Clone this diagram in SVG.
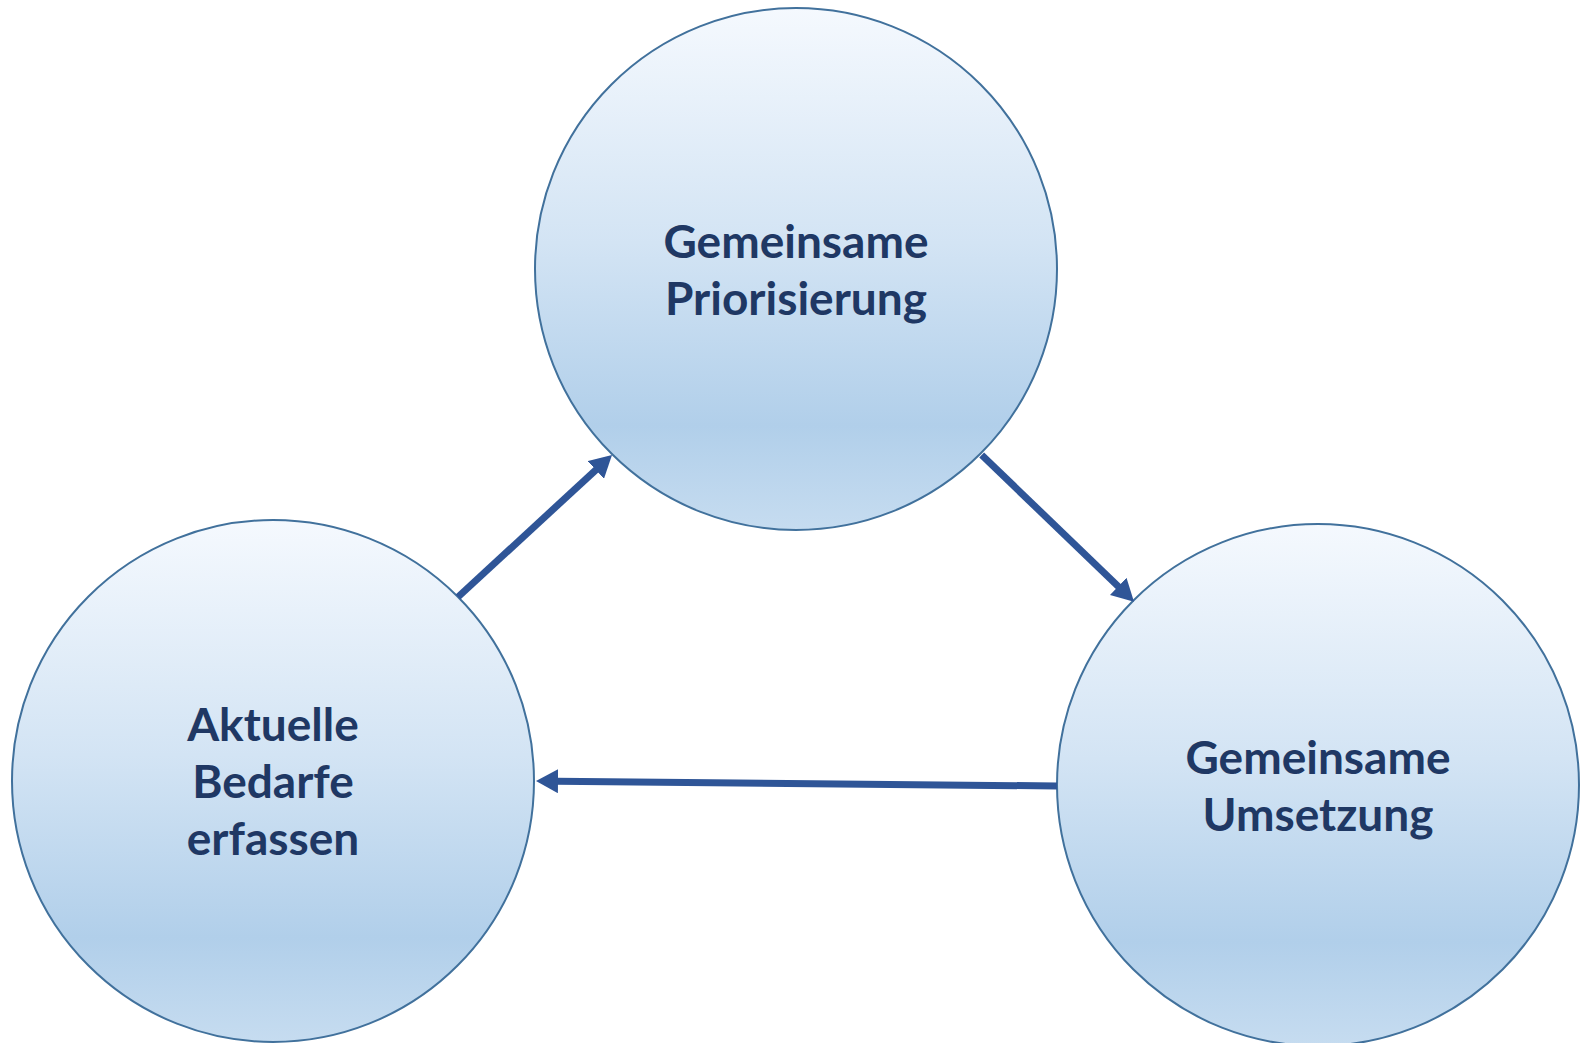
<svg xmlns="http://www.w3.org/2000/svg" width="1583" height="1043" viewBox="0 0 1583 1043">
<defs>
<linearGradient id="g" x1="0" y1="0" x2="0" y2="1">
<stop offset="0" stop-color="#F5F9FE"/>
<stop offset="0.45" stop-color="#D3E4F4"/>
<stop offset="0.8" stop-color="#B1CFEA"/>
<stop offset="1" stop-color="#C6DCF0"/>
</linearGradient>
<marker id="ah" markerUnits="userSpaceOnUse" viewBox="0 0 22 24" markerWidth="22" markerHeight="24" refX="2" refY="12" orient="auto">
<path d="M0,0 L22,12 L0,24 Z" fill="#2F5597"/>
</marker>
</defs>
<style>
.node circle{fill:url(#g);stroke:#41719C;stroke-width:2}
.node text{font-family:Lato,"Open Sans","Liberation Sans",sans-serif;font-weight:bold;font-size:46px;fill:#1F3864;text-anchor:middle}
.conn path{stroke:#2F5597;stroke-width:7;fill:none;marker-end:url(#ah)}
</style>
<rect width="1583" height="1043" fill="#FFFFFF"/>
<g id="node-priorisierung" class="node">
<circle cx="796" cy="269" r="261"/>
<text x="796" y="258">Gemeinsame</text>
<text x="796" y="315">Priorisierung</text>
</g>
<g id="node-bedarfe" class="node">
<circle cx="273" cy="781" r="261"/>
<text x="273" y="741">Aktuelle</text>
<text x="273" y="798">Bedarfe</text>
<text x="273" y="855">erfassen</text>
</g>
<g id="node-umsetzung" class="node">
<circle cx="1318" cy="785" r="261"/>
<text x="1318" y="774">Gemeinsame</text>
<text x="1318" y="831">Umsetzung</text>
</g>
<g id="connectors" class="conn">
<path d="M458,597 L597.3,468.6"/>
<path d="M981.7,455 L1119.6,587.8"/>
<path d="M1057,786 L556,781.2"/>
</g>
</svg>
